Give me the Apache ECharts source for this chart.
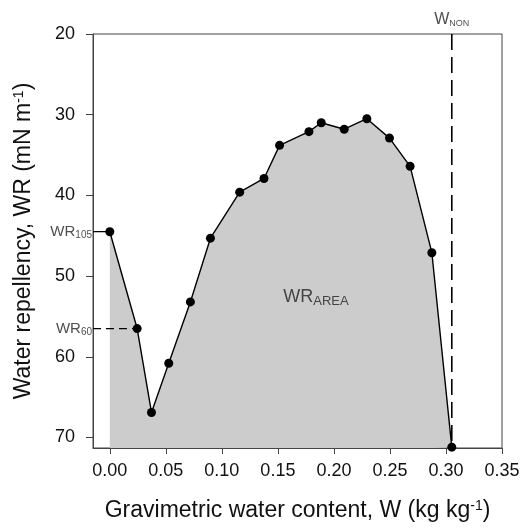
<!DOCTYPE html>
<html>
<head>
<meta charset="utf-8">
<script src="https://cdn.jsdelivr.net/npm/echarts@6/dist/echarts.min.js"></script>
<style>
html,body{margin:0;padding:0;background:#fff;}
#c{width:524px;height:529px;}
</style>
</head>
<body>
<div id="c"></div>
<script>
// ---- data ----
const waterContent = [0, 0.0244, 0.0372, 0.0526, 0.0719, 0.0898, 0.1159, 0.1376, 0.1515, 0.1777, 0.1887, 0.2092, 0.2294, 0.2496, 0.268, 0.2874, 0.3052];
const repellency   = [44.5, 56.5, 66.9, 60.8, 53.2, 45.3, 39.6, 37.9, 33.8, 32.1, 31.0, 31.8, 30.5, 32.9, 36.4, 47.1, 71.2];
const xTicks = [0, 0.05, 0.10, 0.15, 0.20, 0.25, 0.30, 0.35];
const yTicks = [20, 30, 40, 50, 60, 70];
const wNon = 0.3052;
const wr105 = 44.5;
const wr60 = 56.5;
const wr60x = 0.0244;
const xRange = [-0.015, 0.35];
const yRange = [20, 71.3];
const areaLabelAt = [0.184, 52.6];

const FONT = '"Liberation Sans", Arial, sans-serif';
const pts = waterContent.map((x, i) => [x, repellency[i]]);

const chart = echarts.init(document.getElementById('c'));
chart.setOption({
  animation: false,
  backgroundColor: '#fff',
  textStyle: { fontFamily: FONT },
  grid: { left: 93, right: 22, top: 34, bottom: 81, show: true, borderColor: '#444', borderWidth: 1, backgroundColor: 'transparent' },
  xAxis: {
    type: 'value', min: xRange[0], max: xRange[1],
    axisLine: { show: true, onZero: false, lineStyle: { color: '#444', width: 1 } },
    axisTick: { show: true, inside: false, length: 6, customValues: xTicks, lineStyle: { color: '#444' } },
    axisLabel: { customValues: xTicks, formatter: v => v.toFixed(2), color: '#111', fontSize: 18, fontFamily: FONT, margin: 14 },
    splitLine: { show: false },
    name: 'Gravimetric water content, W (kg kg{sup|-1})',
    nameLocation: 'middle', nameGap: 51,
    nameTextStyle: { color: '#111', fontSize: 23, fontFamily: FONT,
      rich: { sup: { fontSize: 14, verticalAlign: 'top', padding: [0, 0, 10, 0], color: '#111', fontFamily: FONT } } }
  },
  yAxis: {
    type: 'value', inverse: true, min: yRange[0], max: yRange[1],
    axisLine: { show: true, onZero: false, lineStyle: { color: '#444', width: 1 } },
    axisTick: { show: true, inside: false, length: 7, customValues: yTicks, lineStyle: { color: '#444' } },
    axisLabel: { customValues: yTicks, color: '#111', fontSize: 18, fontFamily: FONT, margin: 18 },
    splitLine: { show: false },
    name: 'Water repellency, WR (mN m{sup|-1})',
    nameLocation: 'middle', nameGap: 57,
    nameTextStyle: { color: '#111', fontSize: 23, fontFamily: FONT,
      rich: { sup: { fontSize: 14, verticalAlign: 'top', padding: [0, 0, 10, 0], color: '#111', fontFamily: FONT } } }
  },
  series: [
    {
      type: 'line', data: pts, z: 3, clip: false,
      symbol: 'circle', symbolSize: 9, showSymbol: true,
      itemStyle: { color: '#000' },
      lineStyle: { color: '#000', width: 1.4 },
      areaStyle: { color: '#cccccc', opacity: 1, origin: 'end' }
    },
    {
      type: 'line', data: [[wNon, yRange[0]], [wNon, yRange[1]]], symbol: 'none', z: 4,
      lineStyle: { color: '#000', width: 1.6, type: [16, 7] }
    },
    {
      type: 'line', data: [[xRange[0], wr105], [0, wr105]], symbol: 'none', z: 4,
      lineStyle: { color: '#000', width: 1.3 }
    },
    {
      type: 'line', data: [[xRange[0], wr60], [wr60x, wr60]], symbol: 'none', z: 4,
      lineStyle: { color: '#000', width: 1.3, type: [8, 5] }
    },
    {
      type: 'scatter', symbolSize: 0, z: 5, clip: false,
      data: [
        { value: [xRange[0], wr105], label: { show: true, position: 'left', distance: 1, formatter: 'WR{sub|105}' } },
        { value: [xRange[0], wr60], label: { show: true, position: 'left', distance: 1, formatter: 'WR{sub|60}' } },
        { value: [wNon, yRange[0]], label: { show: true, position: 'top', distance: 6, formatter: '{w|W}{sub2|NON}' } },
        { value: areaLabelAt, label: { show: true, position: 'inside', formatter: '{big|WR}{sub3|AREA}' } }
      ],
      label: {
        color: '#222', fontSize: 15, fontFamily: FONT,
        rich: {
          sub: { fontSize: 10, verticalAlign: 'bottom', padding: [8, 0, 0, 0], color: '#222', fontFamily: FONT },
          w: { fontSize: 16, color: '#222', fontFamily: FONT },
          sub2: { fontSize: 9, verticalAlign: 'bottom', padding: [8, 0, 0, 0], color: '#222', fontFamily: FONT },
          big: { fontSize: 18, color: '#222', fontFamily: FONT },
          sub3: { fontSize: 13, verticalAlign: 'bottom', padding: [9, 0, 0, 0], color: '#222', fontFamily: FONT }
        }
      }
    }
  ]
});
</script>
</body>
</html>
